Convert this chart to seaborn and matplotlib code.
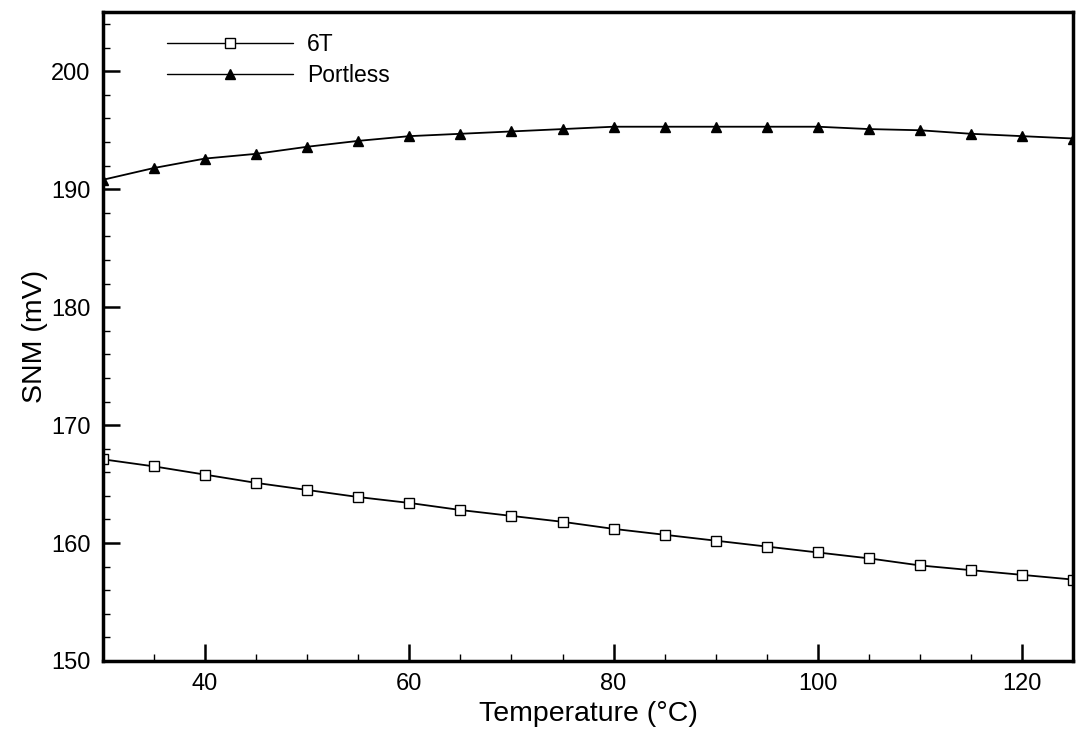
import numpy as np
import pandas as pd
import seaborn as sns
import matplotlib.pyplot as plt
from matplotlib.ticker import MultipleLocator

# Temperature sweep (deg C)
temperature = [30, 35, 40, 45, 50, 55, 60, 65, 70, 75,
               80, 85, 90, 95, 100, 105, 110, 115, 120, 125]

# Static noise margin (mV)
snm_6t = [167.1, 166.5, 165.8, 165.1, 164.5, 163.9, 163.4, 162.8, 162.3, 161.8,
          161.2, 160.7, 160.2, 159.7, 159.2, 158.7, 158.1, 157.7, 157.3, 156.9]
snm_portless = [190.8, 191.8, 192.6, 193.0, 193.6, 194.1, 194.5, 194.7, 194.9, 195.1,
                195.3, 195.3, 195.3, 195.3, 195.3, 195.1, 195.0, 194.7, 194.5, 194.3]

cells = ['6T', 'Portless']

df = pd.concat([
    pd.DataFrame({'temp': temperature, 'snm': snm_6t, 'cell': '6T'}),
    pd.DataFrame({'temp': temperature, 'snm': snm_portless, 'cell': 'Portless'}),
])

sns.set_style('white')
plt.rcParams['font.family'] = ['Liberation Sans', 'DejaVu Sans']
plt.rcParams['text.color'] = 'black'
plt.rcParams['axes.labelcolor'] = 'black'
plt.rcParams['xtick.color'] = 'black'
plt.rcParams['ytick.color'] = 'black'

fig = plt.figure(figsize=(10.83, 7.56), dpi=100)
ax = fig.add_axes([0.095, 0.1257, 0.896, 0.858])

sns.lineplot(data=df, x='temp', y='snm', hue='cell', style='cell',
             hue_order=cells, style_order=cells,
             palette={'6T': 'black', 'Portless': 'black'},
             markers={'6T': 's', 'Portless': '^'},
             dashes=False, linewidth=1.3, markersize=7,
             markeredgecolor='black', markeredgewidth=1.0,
             ax=ax)

# open squares for 6T
for line in ax.lines:
    if line.get_marker() == 's':
        line.set_markerfacecolor('white')

ax.set_xlim(30, 125)
ax.set_ylim(150, 205)
ax.xaxis.set_major_locator(MultipleLocator(20))
ax.xaxis.set_minor_locator(MultipleLocator(5))
ax.yaxis.set_major_locator(MultipleLocator(10))
ax.yaxis.set_minor_locator(MultipleLocator(2))
ax.set_xticks([40, 60, 80, 100, 120])
ax.set_yticks([150, 160, 170, 180, 190, 200])

ax.tick_params(which='major', direction='in', length=12, width=1.8, labelsize=17,
               bottom=True, left=True, pad=9)
ax.tick_params(which='minor', direction='in', length=5, width=1.0,
               bottom=True, left=True)
for s in ax.spines.values():
    s.set_linewidth(2.5)
    s.set_color('black')

ax.set_xlabel('Temperature (°C)', fontsize=20.5, labelpad=4)
ax.set_ylabel('SNM (mV)', fontsize=20.5, labelpad=2)

leg = ax.legend(frameon=False, loc='upper left', bbox_to_anchor=(0.045, 1.0),
                fontsize=16.5, handlelength=5.5, handletextpad=0.6, labelspacing=0.35)
for h in leg.legend_handles:
    h.set_color('black')
    h.set_markeredgecolor('black')
    h.set_linewidth(1.0)
leg.legend_handles[0].set_markerfacecolor('white')

fig.savefig('out.png', dpi=100)
